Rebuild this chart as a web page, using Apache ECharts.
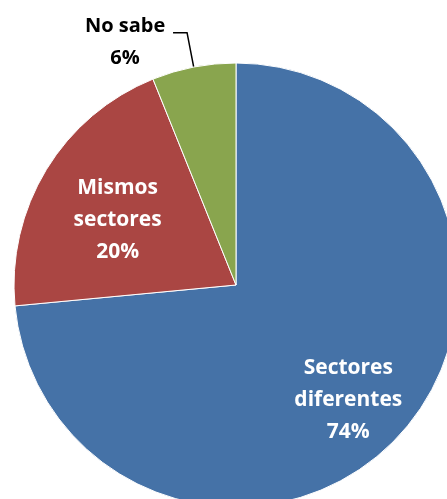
<!DOCTYPE html>
<html>
<head>
<meta charset="utf-8">
<script src="https://cdn.jsdelivr.net/npm/echarts@6/dist/echarts.min.js"></script>
<style>
  html, body { margin: 0; padding: 0; background: #fff; }
  #myChart { width: 447px; height: 499px; }
</style>
</head>
<body>
<div id="myChart"></div>
<script>
    // datos
    var categorias = ['Sectores\ndiferentes', 'Mismos\nsectores', 'No sabe'];
    var valores = [73.5, 20.4, 6.1];
    var etiquetas = ['74%', '20%', '6%'];
    var colores = ['#4572A7', '#AA4643', '#89A54E'];

    var myChart = echarts.init(document.getElementById('myChart'));

    function buildData() {
        var data = [];
        for (var i = 0; i < categorias.length; i++) {
            var item = {
                name: categorias[i],
                value: valores[i],
                itemStyle: { color: colores[i] }
            };
            if (i === 0) {
                item.label = { offset: [28, 38] };
            } else if (i === 1) {
                item.label = { offset: [-21, -6] };
            } else {
                // etiqueta externa con linea guia
                item.label = {
                    position: 'outside',
                    color: '#000',
                    offset: [0, 10],
                    formatter: function(p) {
                        return '{a|' + p.name + '\n' + etiquetas[p.dataIndex] + '}';
                    },
                    rich: {
                        a: { width: 86, align: 'center', fontSize: 20, fontWeight: 'bold',
                             lineHeight: 32, color: '#000', fontFamily: 'Open Sans' }
                    }
                };
                item.labelLine = {
                    show: true,
                    length: 35,
                    length2: 14,
                    lineStyle: { color: '#000', width: 1.5 }
                };
            }
            data.push(item);
        }
        return data;
    }

    var option = {
        backgroundColor: '#fff',
        animation: false,
        series: [{
            type: 'pie',
            center: [236, 285],
            radius: [0, 222],
            startAngle: 90,
            clockwise: true,
            avoidLabelOverlap: false,
            itemStyle: { borderColor: '#fff', borderWidth: 1 },
            label: {
                show: true,
                position: 'inside',
                formatter: function(p) {
                    return p.name + '\n' + etiquetas[p.dataIndex];
                },
                color: '#fff',
                fontFamily: 'Open Sans',
                fontWeight: 'bold',
                fontSize: 21,
                lineHeight: 32
            },
            labelLine: { show: false },
            data: buildData()
        }]
    };

    myChart.setOption(option);
</script>
</body>
</html>
